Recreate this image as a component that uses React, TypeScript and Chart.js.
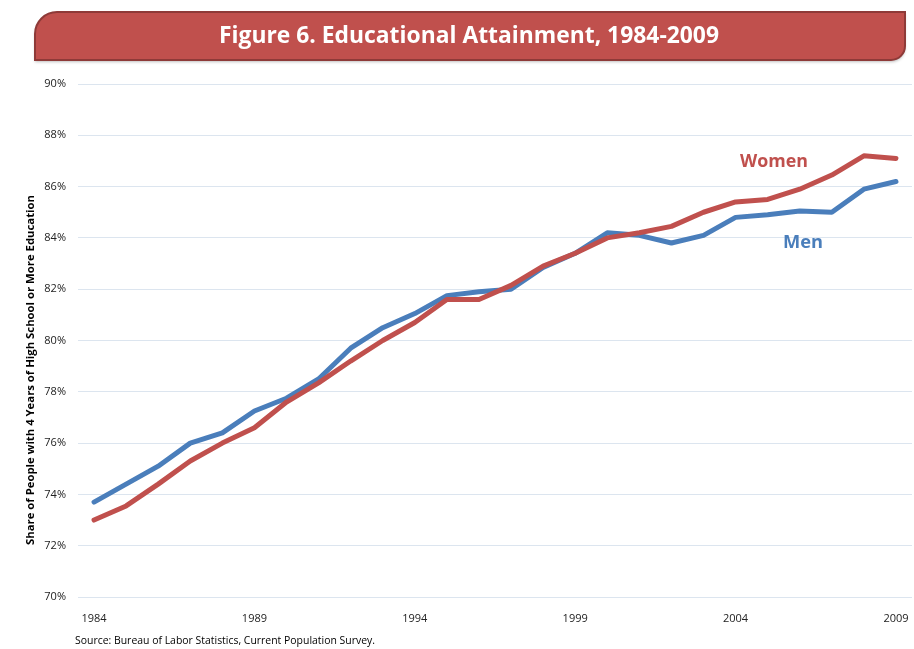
import React, { useEffect, useRef } from "react";
import { Chart, registerables } from "chart.js";

Chart.register(...registerables);

const years = [
  "1984", "1985", "1986", "1987", "1988", "1989", "1990", "1991", "1992",
  "1993", "1994", "1995", "1996", "1997", "1998", "1999", "2000", "2001",
  "2002", "2003", "2004", "2005", "2006", "2007", "2008", "2009",
];
const men = [
  73.7, 74.4, 75.1, 76.0, 76.4, 77.25, 77.75, 78.5, 79.7, 80.5, 81.05, 81.75,
  81.9, 82.0, 82.85, 83.4, 84.2, 84.1, 83.8, 84.1, 84.8, 84.9, 85.05, 85.0,
  85.9, 86.2,
];
const women = [
  73.0, 73.55, 74.4, 75.3, 76.0, 76.6, 77.6, 78.35, 79.2, 80.0, 80.7, 81.6,
  81.6, 82.15, 82.9, 83.4, 84.0, 84.2, 84.45, 85.0, 85.4, 85.5, 85.9, 86.45,
  87.2, 87.1,
];
const shownYearTicks = ["1984", "1989", "1994", "1999", "2004", "2009"];
const yMin = 70;
const yMax = 90;
const yStep = 2;

const titleText = "Figure 6. Educational Attainment, 1984-2009";
const yTitleText = "Share of People with 4 Years of High School or More Education";
const sourceText = "Source: Bureau of Labor Statistics, Current Population Survey.";

const RED = "#C0504D";
const BLUE = "#4A7EBB";
const FONT = "'Open Sans', 'DejaVu Sans', sans-serif";

function drawFitted(
  ctx: CanvasRenderingContext2D,
  text: string,
  cx: number,
  cy: number,
  font: string,
  targetWidth: number,
  color: string,
  rotate = 0
) {
  ctx.save();
  ctx.font = font;
  const w = ctx.measureText(text).width;
  const sx = targetWidth / w;
  ctx.translate(cx, cy);
  if (rotate) ctx.rotate(rotate);
  ctx.scale(sx, 1);
  ctx.fillStyle = color;
  ctx.textAlign = "center";
  ctx.textBaseline = "middle";
  ctx.fillText(text, 0, 0);
  ctx.restore();
}

const decorations = {
  id: "decorations",
  beforeDraw(chart: any) {
    const ctx: CanvasRenderingContext2D = chart.ctx;
    ctx.save();
    ctx.fillStyle = "#ffffff";
    ctx.fillRect(0, 0, chart.width, chart.height);
    // banner
    const L = 35, T = 12, R = 905, B = 60;
    const r1 = 22, r2 = 14;
    ctx.beginPath();
    ctx.moveTo(L, B);
    ctx.lineTo(L, T + r1);
    ctx.arcTo(L, T, L + r1, T, r1);
    ctx.lineTo(R, T);
    ctx.lineTo(R, B - r2);
    ctx.arcTo(R, B, R - r2, B, r2);
    ctx.lineTo(L, B);
    ctx.closePath();
    ctx.shadowColor = "rgba(0,0,0,0.25)";
    ctx.shadowBlur = 3;
    ctx.shadowOffsetY = 2;
    ctx.fillStyle = RED;
    ctx.fill();
    ctx.shadowColor = "transparent";
    ctx.lineWidth = 2;
    ctx.strokeStyle = "#8E3A38";
    ctx.stroke();
    ctx.restore();
    drawFitted(ctx, titleText, 469, 36, `bold 24px ${FONT}`, 500, "#ffffff");
  },
  afterDraw(chart: any) {
    const ctx: CanvasRenderingContext2D = chart.ctx;
    drawFitted(ctx, yTitleText, 31, 370, `bold 11px ${FONT}`, 350, "#000000", -Math.PI / 2);
    drawFitted(ctx, sourceText, 75 + 150, 641, `10px ${FONT}`, 300, "#000000");
    drawFitted(ctx, "Women", 774, 162, `bold 17px ${FONT}`, 68, RED);
    drawFitted(ctx, "Men", 803, 243, `bold 17px ${FONT}`, 40, BLUE);
  },
};

export default function App() {
  const canvasRef = useRef<HTMLCanvasElement | null>(null);

  useEffect(() => {
    if (!canvasRef.current) return;
    const chart = new Chart(canvasRef.current, {
      type: "line",
      data: {
        labels: years,
        datasets: [
          {
            label: "Women",
            data: women,
            borderColor: RED,
            backgroundColor: RED,
            borderWidth: 5,
            pointRadius: 0,
            tension: 0,
            borderJoinStyle: "round",
            borderCapStyle: "round",
          },
          {
            label: "Men",
            data: men,
            borderColor: BLUE,
            backgroundColor: BLUE,
            borderWidth: 5,
            pointRadius: 0,
            tension: 0,
            borderJoinStyle: "round",
            borderCapStyle: "round",
          },
        ],
      },
      options: {
        responsive: false,
        animation: false,
        devicePixelRatio: 1,
        layout: { padding: { top: 84, right: 2, bottom: 20, left: 0 } },
        plugins: {
          legend: { display: false },
          tooltip: { enabled: false },
          title: { display: false },
        },
        scales: {
          x: {
            type: "category",
            offset: true,
            grid: { display: false },
            border: { display: false },
            ticks: {
              autoSkip: false,
              maxRotation: 0,
              minRotation: 0,
              padding: 7,
              color: "#222222",
              font: { family: FONT, size: 11 },
              callback: (_v: any, i: number) =>
                shownYearTicks.includes(years[i]) ? years[i] : "",
            },
            afterFit: (s: any) => {
              s.height = 32;
              s.paddingLeft = 0;
              s.paddingRight = 0;
            },
          },
          y: {
            min: yMin,
            max: yMax,
            border: { display: false },
            grid: { color: "#DCE5EF", lineWidth: 1, drawTicks: false },
            ticks: {
              stepSize: yStep,
              padding: 12,
              color: "#222222",
              font: { family: FONT, size: 11 },
              callback: (v: any) => `${v}%`,
            },
            afterFit: (s: any) => {
              s.width = 78;
            },
          },
        },
      },
      plugins: [decorations],
    } as any);
    return () => chart.destroy();
  }, []);

  return (
    <div style={{ position: "fixed", left: 0, top: 0, width: 914, height: 649, background: "#fff" }}>
      <canvas ref={canvasRef} width={914} height={649} style={{ display: "block" }} />
    </div>
  );
}
